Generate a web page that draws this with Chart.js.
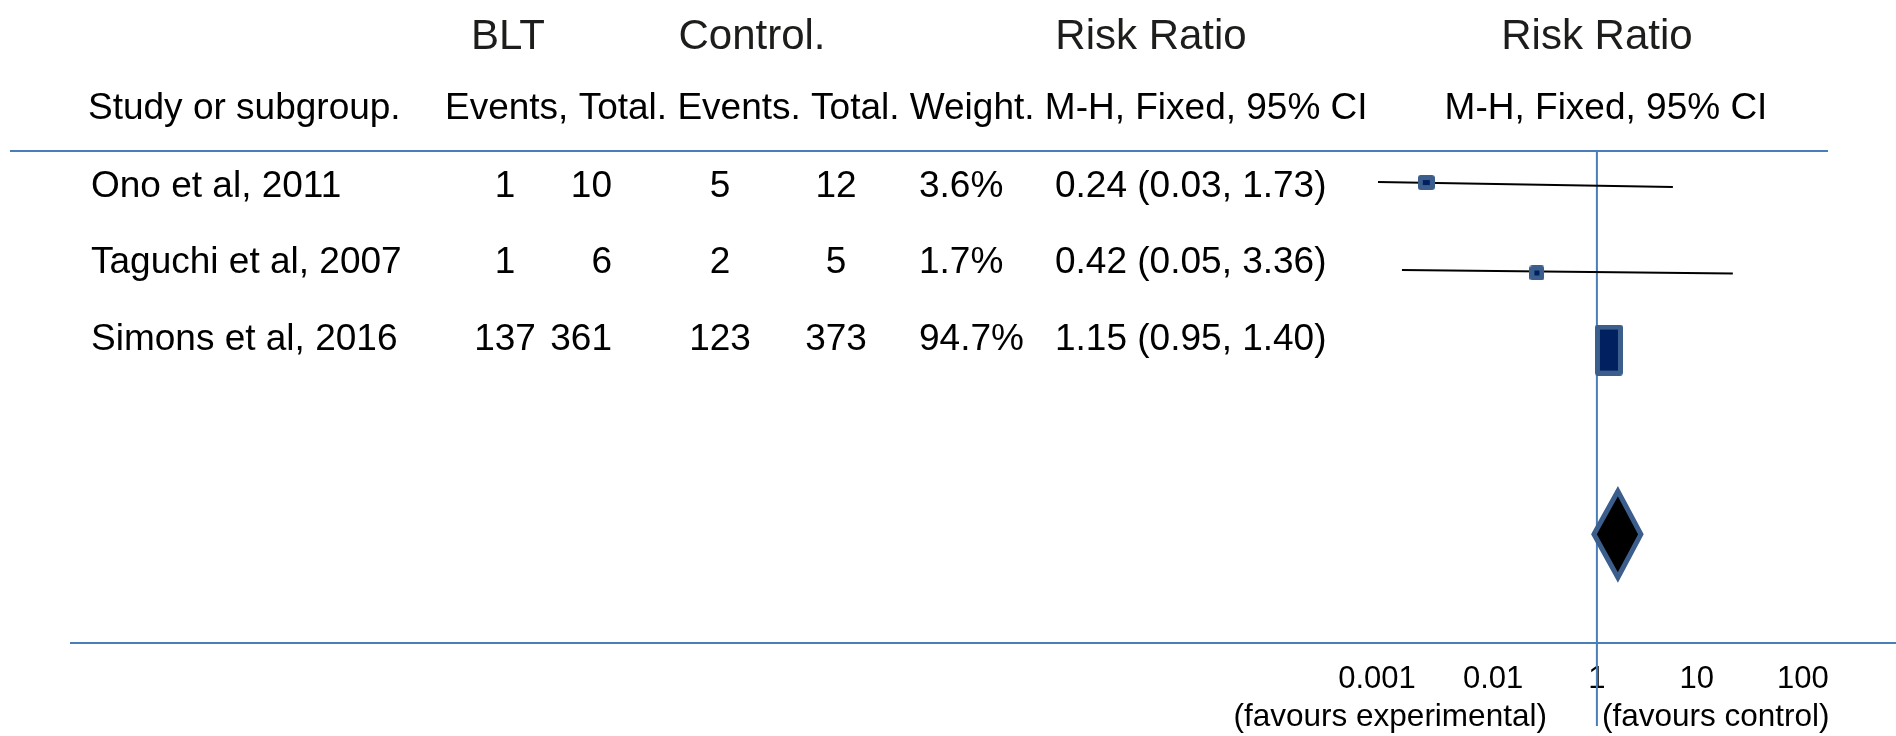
<!DOCTYPE html>
<html><head><meta charset="utf-8">
<script src="https://cdn.jsdelivr.net/npm/chart.js@4.4.1/dist/chart.umd.min.js"></script>
<style>html,body{margin:0;padding:0;background:#fff;}canvas{display:block;}</style>
</head><body>
<canvas id="c" width="1896" height="736"></canvas>
<script>
// ---------------- data ----------------
const headerTop = ['BLT', 'Control.', 'Risk Ratio', 'Risk Ratio'];
const headerSub = ['Study or subgroup.', 'Events, Total. Events. Total. Weight. M-H, Fixed, 95% CI', 'M-H, Fixed, 95% CI'];
const studies = ['Ono et al, 2011', 'Taguchi et al, 2007', 'Simons et al, 2016'];
const bltEvents = [1, 1, 137];
const bltTotal = [10, 6, 361];
const ctrlEvents = [5, 2, 123];
const ctrlTotal = [12, 5, 373];
const weights = ['3.6%', '1.7%', '94.7%'];
const riskRatio = ['0.24', '0.42', '1.15'];
const ciLower = ['0.03', '0.05', '0.95'];
const ciUpper = ['1.73', '3.36', '1.40'];
const favourLabels = ['(favours experimental)', '(favours control)'];

// x axis as drawn: evenly spaced label slots, 0 = line of no effect (RR 1)
const tickLabels = ['0.001', '0.01', '1', '10', '100'];
const tickSlots = [-2.075, -0.98, 0, 0.943, 1.943];
// plotted marks, in the same axis units
const plotPoint = [-1.61, -0.566, 0.113];
const plotRow = [0.98, 2.07, 3];
const plotLow = [-2.066, -1.84, null];
const plotHigh = [0.717, 1.283, null];
const plotLowRow = [0.975, 2.035, null];   // the CI lines are drawn slightly sloped
const plotHighRow = [1.035, 2.075, null];
const pooled = [-0.028, 0.198, 0.415];   // left tip, centre, right tip
const pooledRow = [5.22];

// ---------------- styles / layout ----------------
const FONT = "'Liberation Sans', Arial, Helvetica, sans-serif";
const BLUE = '#4a7ebb';
const BOX_EDGE = '#3b5e8c';
const BOX_FILL = '#002060';
const boxSizes = [[17, 15], [15, 15], [28, 51]];
const diamondHalfHeight = 0.52;

function makeBox(w, h) {
  const c = document.createElement('canvas');
  c.width = w; c.height = h;
  const g = c.getContext('2d');
  g.fillStyle = BOX_EDGE;
  g.beginPath();
  if (g.roundRect) g.roundRect(0, 0, w, h, 3); else g.rect(0, 0, w, h);
  g.fill();
  g.fillStyle = BOX_FILL;
  g.fillRect(5, 5, w - 10, h - 10);
  return c;
}
const boxImages = boxSizes.map(s => makeBox(s[0], s[1]));

const datasets = [];
plotLow.forEach((lo, i) => {
  if (lo === null) return;
  datasets.push({
    type: 'line',
    data: [{x: lo, y: plotLowRow[i]}, {x: plotHigh[i], y: plotHighRow[i]}],
    borderColor: '#000', borderWidth: 2, pointRadius: 0, fill: false, order: 3
  });
});
datasets.push({
  type: 'scatter',
  data: plotPoint.map((x, i) => ({x, y: plotRow[i]})),
  pointStyle: boxImages, pointRadius: 10, order: 1
});
const py = pooledRow[0];
datasets.push({
  type: 'line',
  data: [
    {x: pooled[0], y: py},
    {x: pooled[1], y: py - diamondHalfHeight},
    {x: pooled[2], y: py},
    {x: pooled[1], y: py + diamondHalfHeight},
    {x: pooled[0], y: py},
    {x: pooled[1], y: py - diamondHalfHeight}
  ],
  fill: 'shape', backgroundColor: '#000', borderColor: BOX_EDGE, borderWidth: 5,
  borderJoinStyle: 'miter', pointRadius: 0, tension: 0, order: 0
});

const tablePlugin = {
  id: 'table',
  beforeDatasetsDraw(chart) {
    const ctx = chart.ctx, ca = chart.chartArea;
    const xs = chart.scales.x;
    const x1 = xs.getPixelForValue(0);
    ctx.save();
    // rules
    ctx.strokeStyle = BLUE; ctx.lineWidth = 2;
    ctx.beginPath(); ctx.moveTo(10, ca.top); ctx.lineTo(1828, ca.top); ctx.stroke();
    ctx.beginPath(); ctx.moveTo(70, ca.bottom); ctx.lineTo(1896, ca.bottom); ctx.stroke();
    ctx.beginPath(); ctx.moveTo(x1, ca.top); ctx.lineTo(x1, 726); ctx.stroke();

    ctx.textBaseline = 'middle';
    // header row 1
    ctx.fillStyle = '#1d1d1b';
    ctx.font = '42px ' + FONT;
    ctx.textAlign = 'center';
    const topX = [508, 752, 1151, x1];
    headerTop.forEach((t, i) => ctx.fillText(t, topX[i], 37));
    // header row 2
    ctx.fillStyle = '#000';
    ctx.font = '37px ' + FONT;
    ctx.textAlign = 'left';
    ctx.fillText(headerSub[0], 88, 109);
    ctx.fillText(headerSub[1], 445, 109);
    ctx.textAlign = 'center';
    ctx.fillText(headerSub[2], 1606, 109);
    // rows
    const rowY = [187, 263, 340];
    studies.forEach((s, i) => {
      const y = rowY[i];
      ctx.textAlign = 'left'; ctx.fillText(s, 91, y);
      ctx.textAlign = 'center'; ctx.fillText(String(bltEvents[i]), 505, y);
      ctx.textAlign = 'right'; ctx.fillText(String(bltTotal[i]), 612, y);
      ctx.textAlign = 'center'; ctx.fillText(String(ctrlEvents[i]), 720, y);
      ctx.textAlign = 'center'; ctx.fillText(String(ctrlTotal[i]), 836, y);
      ctx.textAlign = 'left'; ctx.fillText(weights[i], 919, y);
      ctx.textAlign = 'left'; ctx.fillText(riskRatio[i] + ' (' + ciLower[i] + ', ' + ciUpper[i] + ')', 1055, y);
    });
    // favours labels
    ctx.font = '31.5px ' + FONT;
    ctx.textAlign = 'right'; ctx.fillText(favourLabels[0], x1 - 50, 717);
    ctx.textAlign = 'left'; ctx.fillText(favourLabels[1], x1 + 5, 717);
    ctx.restore();
  }
};

new Chart(document.getElementById('c'), {
  type: 'scatter',
  data: {datasets},
  options: {
    responsive: false, animation: false, devicePixelRatio: 1, events: [],
    layout: {padding: {left: 1332, right: 13, top: 151, bottom: 0}},
    plugins: {legend: {display: false}, tooltip: {enabled: false}},
    scales: {
      x: {
        type: 'linear', min: -2.5, max: 2.7,
        grid: {display: false, drawTicks: false}, border: {display: false},
        afterBuildTicks: s => { s.ticks = tickSlots.map(v => ({value: v})); },
        afterFit: s => { s.height = 93; },
        ticks: {autoSkip: false, maxRotation: 0, minRotation: 0, padding: 18, color: '#000',
          font: {family: FONT, size: 31}, callback: (v, i) => tickLabels[i]}
      },
      y: {type: 'linear', display: false, reverse: true, min: 0.60, max: 6.53}
    }
  },
  plugins: [tablePlugin]
});
</script>
</body></html>
